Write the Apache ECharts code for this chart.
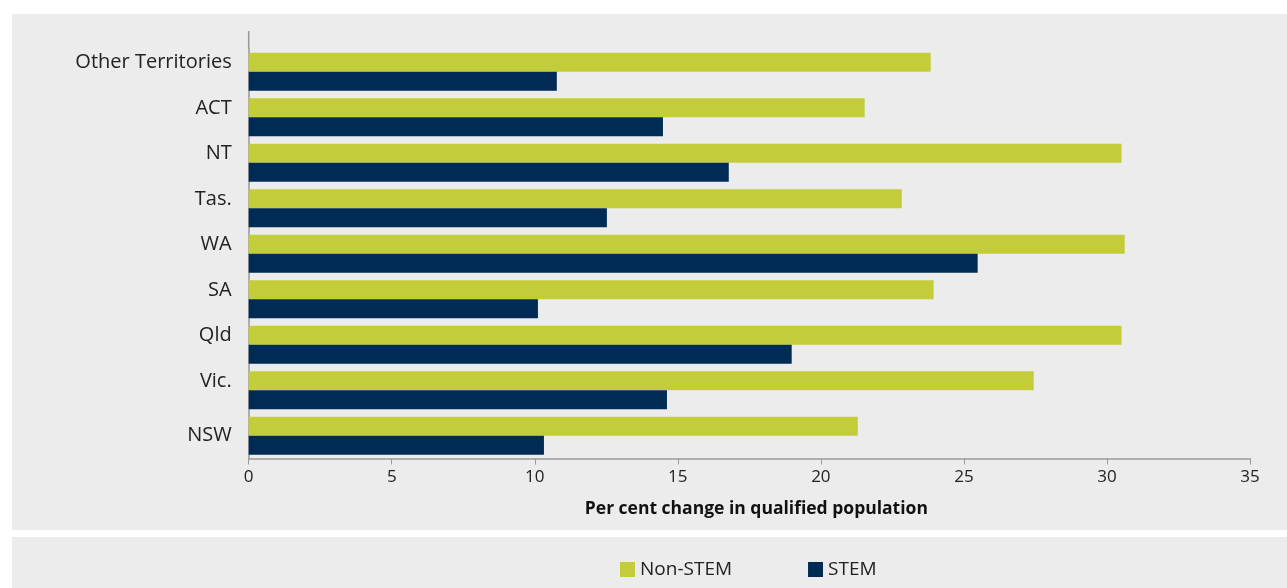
<!DOCTYPE html>
<html>
<head>
<meta charset="utf-8">
<script src="https://cdn.jsdelivr.net/npm/echarts@6/dist/echarts.min.js"></script>
<style>
  html, body { margin: 0; padding: 0; background: #ffffff; }
  #wrap { position: relative; width: 1287px; height: 588px; }
  .panel { position: absolute; background: #ececec; }
  #chart { position: absolute; left: 0; top: 0; width: 1287px; height: 588px; }
</style>
</head>
<body>
<div id="wrap">
  <div class="panel" style="left:12px;top:14px;width:1275px;height:516px;"></div>
  <div class="panel" style="left:12px;top:537px;width:1275px;height:51px;"></div>
  <div id="chart"></div>
</div>
<script>
// Categories from top to bottom
const categories = ['Other Territories', 'ACT', 'NT', 'Tas.', 'WA', 'SA', 'Qld', 'Vic.', 'NSW'];
const nonStem = [23.84, 21.53, 30.51, 22.83, 30.62, 23.94, 30.51, 27.44, 21.29];
const stem = [10.77, 14.48, 16.78, 12.52, 25.48, 10.11, 18.98, 14.62, 10.32];
const xTicks = [0, 5, 10, 15, 20, 25, 30, 35];
const seriesNames = ['Non-STEM', 'STEM'];

const FONT = '"Open Sans", "Noto Sans", sans-serif';
const chart = echarts.init(document.getElementById('chart'), null, { renderer: 'canvas' });
const option = {
  backgroundColor: 'transparent',
  animation: false,
  textStyle: { fontFamily: FONT },
  grid: { left: 248.7, right: 37, top: 49, bottom: 129.5, containLabel: false },
  legend: {
    data: seriesNames,
    left: 615, top: 555,
    itemWidth: 15, itemHeight: 15, itemGap: 76,
    icon: 'rect',
    textStyle: { fontFamily: FONT, fontSize: 19, color: '#222' }
  },
  xAxis: {
    type: 'value',
    min: xTicks[0], max: xTicks[xTicks.length - 1], interval: 5,
    name: 'Per cent change in qualified population',
    nameLocation: 'middle', nameGap: 42,
    nameTextStyle: { fontFamily: FONT, fontWeight: 'bold', fontSize: 17.5, color: '#111', padding: [0, 0, 0, 14] },
    axisLine: { show: true, lineStyle: { color: '#999', width: 1.5 } },
    axisTick: { show: true, length: 6, lineStyle: { color: '#999' } },
    axisLabel: { fontFamily: FONT, fontSize: 17, color: '#222', margin: 10 },
    splitLine: { show: false }
  },
  yAxis: {
    type: 'category',
    data: categories,
    inverse: true,
    axisLine: { show: true, lineStyle: { color: '#999', width: 1.5 } },
    axisTick: { show: false },
    axisLabel: {
      fontFamily: FONT, fontSize: 20, color: '#222', margin: 17,
      formatter: function (v, i) {
        return (i === categories.length - 1 ? '{c|' : '{u|') + v + '}';
      },
      rich: {
        u: { fontFamily: FONT, fontSize: 20, color: '#222', padding: [0, 0, 18, 0] },
        c: { fontFamily: FONT, fontSize: 20, color: '#222' }
      }
    }
  },
  series: [
    {
      name: seriesNames[0], type: 'bar', data: nonStem,
      barWidth: 19, barGap: '0%',
      itemStyle: { color: '#c3cd39' }
    },
    {
      name: seriesNames[1], type: 'bar', data: stem,
      barWidth: 19, barGap: '0%',
      itemStyle: { color: '#002b55' }
    }
  ]
};
chart.setOption(option);
// extend the vertical axis line upward like the reference
const topPt = chart.convertToPixel({ gridIndex: 0 }, [0, 0]);
chart.setOption({
  graphic: [{
    type: 'line',
    shape: { x1: topPt[0], y1: 31, x2: topPt[0], y2: 49 },
    style: { stroke: '#999', lineWidth: 1.5 }
  }]
});
</script>
</body>
</html>
